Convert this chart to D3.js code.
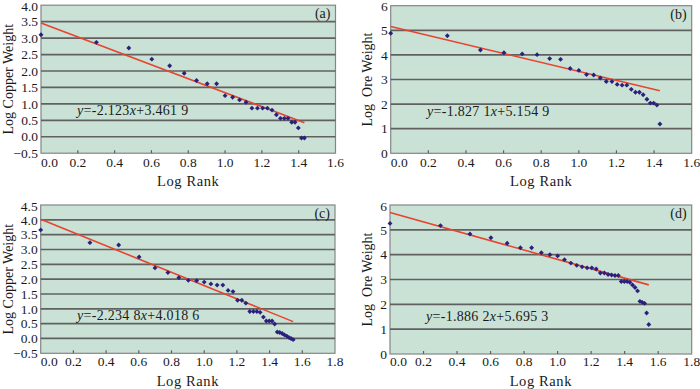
<!DOCTYPE html>
<html>
<head>
<meta charset="utf-8">
<script src="https://cdn.jsdelivr.net/npm/d3@7"></script>
<style>
    body { margin: 0; background: #fff; }
    svg { display: block; }
    text { font-family: "Liberation Serif", "Tinos", "Nimbus Roman", "Times New Roman", "DejaVu Serif", serif; }
    .tick-label { font-size: 13.5px; fill: #1a1a1a; }
    .axis-title { font-size: 14px; fill: #1a1a1a; white-space: pre; }
    .x-title { font-size: 14.5px; letter-spacing: 0.6px; }
    .eq { font-size: 14px; fill: #1a1a1a; letter-spacing: 0.3px; }
    .tag { font-size: 14px; fill: #1a1a1a; }
</style>
</head>
<body>
<div id="chart"></div>
<script>
// log rank values (rank 1..35)
const logRank27 = [0, 0.301, 0.477, 0.602, 0.699, 0.778, 0.845, 0.903, 0.954, 1.000,
    1.041, 1.079, 1.114, 1.146, 1.176, 1.204, 1.230, 1.255, 1.279, 1.301,
    1.322, 1.342, 1.362, 1.380, 1.398, 1.415, 1.431];
const logRank35 = [0, 0.301, 0.477, 0.602, 0.699, 0.778, 0.845, 0.903, 0.954, 1.000,
    1.041, 1.079, 1.114, 1.146, 1.176, 1.204, 1.230, 1.255, 1.279, 1.301,
    1.322, 1.342, 1.362, 1.380, 1.398, 1.415, 1.431, 1.447, 1.462, 1.477,
    1.491, 1.505, 1.519, 1.531, 1.544];

// (a) log copper weight
const copperA = [3.10, 2.87, 2.70, 2.36, 2.16, 1.93, 1.71, 1.61, 1.61, 1.25,
    1.20, 1.12, 1.05, 0.87, 0.87, 0.87, 0.87, 0.81, 0.67, 0.56,
    0.56, 0.56, 0.44, 0.44, 0.27, -0.04, -0.04];
// (b) log ore weight
const oreB = [4.88, 4.78, 4.20, 4.09, 4.04, 4.01, 3.85, 3.82, 3.45, 3.37,
    3.20, 3.18, 3.06, 2.92, 2.92, 2.80, 2.77, 2.77, 2.60, 2.48,
    2.48, 2.38, 2.20, 2.04, 2.04, 1.96, 1.19];
// (c) log copper weight
const copperC = [3.66, 3.23, 3.15, 2.75, 2.38, 2.22, 2.05, 1.96, 1.95, 1.90,
    1.84, 1.80, 1.80, 1.62, 1.58, 1.29, 1.29, 1.19, 0.91, 0.91,
    0.91, 0.88, 0.72, 0.59, 0.59, 0.59, 0.49, 0.22, 0.20, 0.17,
    0.12, 0.08, 0.03, 0.00, -0.04];
// (d) log ore weight
const oreD = [5.26, 5.17, 4.83, 4.68, 4.46, 4.28, 4.28, 4.08, 4.00, 3.95,
    3.80, 3.66, 3.57, 3.51, 3.47, 3.47, 3.42, 3.26, 3.26, 3.20,
    3.18, 3.16, 3.16, 2.92, 2.92, 2.92, 2.89, 2.78, 2.68, 2.54,
    2.12, 2.08, 2.04, 1.65, 1.19];

// fitted lines: [slope, intercept]
const fits = [[-2.123, 3.4619], [-1.8271, 5.1549], [-2.2348, 4.0186], [-1.8862, 5.6953]];
const eqLabels = [
    ["-2.123", "+3.461 9"],
    ["-1.827 1", "+5.154 9"],
    ["-2.234 8", "+4.018 6"],
    ["-1.886 2", "+5.695 3"]
];
const tags = ["(a)", "(b)", "(c)", "(d)"];
const yTitles = ["Log Copper Weight", "Log  Ore Weight", "Log Copper Weight", "Log  Ore Weight"];
const xTicks16 = [0, 0.2, 0.4, 0.6, 0.8, 1.0, 1.2, 1.4, 1.6];
const xTicks18 = [0, 0.2, 0.4, 0.6, 0.8, 1.0, 1.2, 1.4, 1.6, 1.8];
const yTicksA = [-0.5, 0, 0.5, 1, 1.5, 2, 2.5, 3, 3.5, 4];
const yTicksB = [0, 1, 2, 3, 4, 5, 6];
const yTicksC = [-0.5, 0, 0.5, 1, 1.5, 2, 2.5, 3, 3.5, 4, 4.5];

// panel layout (pixel boxes of each plot area)
const panels = [
    { x0: 41, x1: 335.5, y0: 5.2, y1: 153.2, xs: logRank27, ys: copperA, xTicks: xTicks16, yTicks: yTicksA, yFmt: '.1f', titleX: 8, eqX: 77, eqY: 115, xLabY: 167, xTitleY: 186 },
    { x0: 390.7, x1: 691.7, y0: 5.7, y1: 153.3, xs: logRank27, ys: oreB, xTicks: xTicks16, yTicks: yTicksB, yFmt: 'd', titleX: 367, eqX: 427, eqY: 116, xLabY: 167, xTitleY: 186 },
    { x0: 40.7, x1: 335, y0: 205, y1: 353.3, xs: logRank35, ys: copperC, xTicks: xTicks18, yTicks: yTicksC, yFmt: '.1f', titleX: 8, eqX: 77, eqY: 320, xLabY: 366, xTitleY: 386 },
    { x0: 390, x1: 691.7, y0: 205, y1: 354, xs: logRank35, ys: oreD, xTicks: xTicks18, yTicks: yTicksB, yFmt: 'd', titleX: 367, eqX: 426, eqY: 321, xLabY: 366, xTitleY: 386 }
];

const svg = d3.select('#chart').append('svg')
    .attr('width', 700)
    .attr('height', 389);

panels.forEach((p, i) => {
    let x = d3.scaleLinear()
        .domain(d3.extent(p.xTicks))
        .range([p.x0, p.x1]);
    let y = d3.scaleLinear()
        .domain(d3.extent(p.yTicks))
        .range([p.y1, p.y0]);

    let g = svg.append('g');

    // plot background
    g.append('rect')
        .attr('x', p.x0).attr('y', p.y0)
        .attr('width', p.x1 - p.x0).attr('height', p.y1 - p.y0)
        .attr('fill', '#cae2d6')
        .attr('stroke', '#858585')
        .attr('stroke-width', 1.2);

    // horizontal grid
    g.selectAll('.grid')
        .data(p.yTicks.slice(1, -1))
        .enter().append('line')
        .attr('x1', p.x0).attr('x2', p.x1)
        .attr('y1', d => y(d)).attr('y2', d => y(d))
        .attr('stroke', '#606060')
        .attr('stroke-width', 1.7);

    // inner x tick marks
    g.selectAll('.xtick')
        .data(p.xTicks.slice(1, -1))
        .enter().append('line')
        .attr('x1', d => x(d)).attr('x2', d => x(d))
        .attr('y1', p.y1).attr('y2', p.y1 - 3)
        .attr('stroke', '#606060')
        .attr('stroke-width', 1.2);

    // x tick labels
    g.selectAll('.xlab')
        .data(p.xTicks)
        .enter().append('text')
        .attr('class', 'tick-label')
        .attr('x', (d, j) => x(d) + (j === 0 ? 8.5 : 0))
        .attr('y', p.xLabY)
        .attr('text-anchor', 'middle')
        .text(d => d3.format('.1f')(d));

    // y tick labels
    g.selectAll('.ylab')
        .data(p.yTicks)
        .enter().append('text')
        .attr('class', 'tick-label')
        .attr('x', p.x0 - 3)
        .attr('y', (d, j) => y(d) + (j === p.yTicks.length - 1 ? 1 : 0))
        .attr('dy', '0.35em')
        .attr('text-anchor', 'end')
        .text(d => d3.format(p.yFmt)(d));

    // axis titles
    g.append('text')
        .attr('class', 'axis-title x-title')
        .attr('x', (p.x0 + p.x1) / 2)
        .attr('y', p.xTitleY)
        .attr('text-anchor', 'middle')
        .text('Log Rank');

    g.append('text')
        .attr('class', 'axis-title')
        .attr('transform', `translate(${p.titleX + 5}, ${(p.y0 + p.y1) / 2}) rotate(-90)`)
        .attr('text-anchor', 'middle')
        .text(yTitles[i]);

    // regression line
    let [m, b] = fits[i];
    let xEnd = d3.max(p.xs);
    g.append('line')
        .attr('x1', x(0)).attr('y1', y(b))
        .attr('x2', x(xEnd)).attr('y2', y(m * xEnd + b))
        .attr('stroke', '#e8432f')
        .attr('stroke-width', 1.6);

    // points
    g.selectAll('.pt')
        .data(p.xs.map((d, j) => ({ lx: d, ly: p.ys[j] })))
        .enter().append('path')
        .attr('d', d3.symbol().type(d3.symbolSquare).size(12))
        .attr('transform', d => `translate(${x(d.lx)}, ${y(d.ly)}) rotate(45)`)
        .attr('fill', '#2b207c');

    // equation
    let eq = g.append('text')
        .attr('class', 'eq')
        .attr('x', p.eqX)
        .attr('y', p.eqY);
    eq.append('tspan').attr('font-style', 'italic').text('y');
    eq.append('tspan').text('=' + eqLabels[i][0]);
    eq.append('tspan').attr('font-style', 'italic').text('x');
    eq.append('tspan').text(eqLabels[i][1]);

    // panel tag
    g.append('text')
        .attr('class', 'tag')
        .attr('x', p.x1 - 5)
        .attr('y', p.y0 + 13)
        .attr('text-anchor', 'end')
        .text(tags[i]);
});
</script>
</body>
</html>
